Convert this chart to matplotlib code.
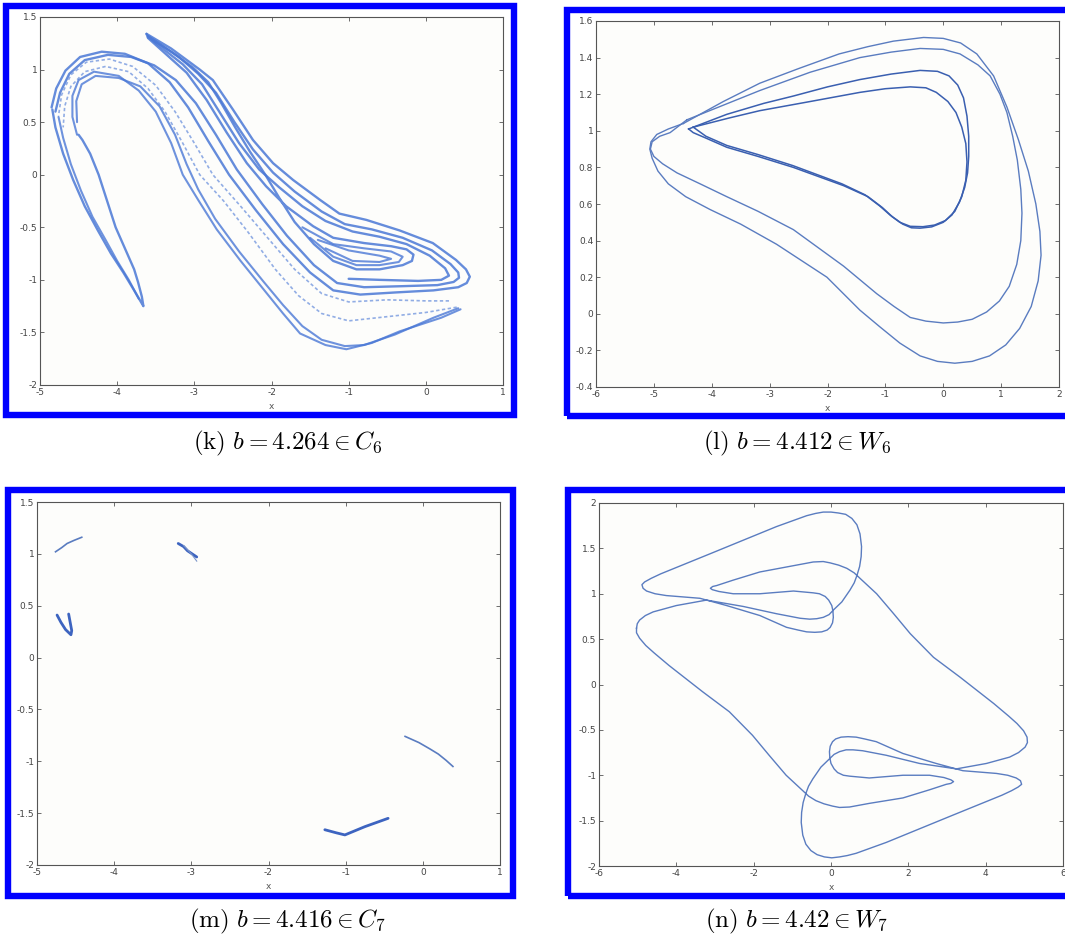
import numpy as np
import matplotlib
matplotlib.use("Agg")
import matplotlib.pyplot as plt
from matplotlib.patches import Rectangle
from matplotlib.ticker import FuncFormatter

plt.rcParams['mathtext.fontset'] = 'cm'
plt.rcParams['axes.unicode_minus'] = False

W, H = 1065, 939

# ---------------- panel (k): folded chaotic band ----------------
k_band_right = [(-3.62, 1.34), (-3.3, 1.2), (-2.93, 1.0), (-2.76, 0.9), (-2.5, 0.62), (-2.24, 0.33),
                (-1.98, 0.11), (-1.72, -0.05), (-1.37, -0.24), (-1.12, -0.37), (-0.77, -0.43),
                (-0.34, -0.53), (0.09, -0.65), (0.39, -0.81), (0.52, -0.9), (0.57, -0.97),
                (0.53, -1.03), (0.42, -1.07), (0.1, -1.1), (-0.4, -1.12), (-0.85, -1.14),
                (-1.2, -1.1), (-1.5, -0.93), (-1.85, -0.66), (-2.2, -0.34), (-2.55, 0.0),
                (-2.82, 0.32), (-3.08, 0.64), (-3.32, 0.88), (-3.6, 1.06), (-3.9, 1.15),
                (-4.2, 1.17), (-4.48, 1.12), (-4.67, 0.99), (-4.79, 0.82), (-4.85, 0.64)]
k_band_mid = [(-3.6, 1.32), (-3.2, 1.12), (-2.95, 0.96), (-2.72, 0.78), (-2.48, 0.5), (-2.24, 0.24),
              (-1.98, 0.02), (-1.7, -0.16), (-1.35, -0.35), (-1.05, -0.47), (-0.7, -0.52),
              (-0.3, -0.6), (0.08, -0.72), (0.32, -0.85), (0.42, -0.93), (0.43, -0.98),
              (0.36, -1.02), (0.15, -1.05), (-0.3, -1.06), (-0.8, -1.07), (-1.15, -1.03),
              (-1.45, -0.86), (-1.8, -0.58), (-2.12, -0.28), (-2.45, 0.05), (-2.72, 0.38),
              (-2.98, 0.68), (-3.24, 0.9), (-3.52, 1.04), (-3.82, 1.12), (-4.12, 1.14),
              (-4.42, 1.09), (-4.62, 0.96), (-4.74, 0.78), (-4.8, 0.6)]
k_band_inner = [(-3.6, 1.31), (-3.15, 1.05), (-2.9, 0.86), (-2.66, 0.58), (-2.42, 0.3), (-2.16, 0.05),
                (-1.9, -0.12), (-1.6, -0.3), (-1.3, -0.44), (-0.95, -0.54), (-0.6, -0.59),
                (-0.25, -0.66), (0.05, -0.77), (0.25, -0.89), (0.3, -0.96), (0.2, -1.0),
                (-0.1, -1.01), (-0.6, -1.0), (-1.0, -0.99)]
k_band_left = [(-3.62, 1.34), (-3.6, 1.3), (-3.1, 0.97), (-2.84, 0.71), (-2.58, 0.4), (-2.32, 0.11),
               (-2.07, -0.11), (-1.81, -0.3), (-1.46, -0.49), (-1.2, -0.6), (-0.8, -0.65),
               (-0.45, -0.68), (-0.25, -0.71), (-0.16, -0.76), (-0.18, -0.82), (-0.3, -0.86),
               (-0.6, -0.9), (-0.9, -0.9), (-1.2, -0.82), (-1.45, -0.66), (-1.7, -0.45),
               (-1.9, -0.22), (-2.08, 0.0), (-2.28, 0.22), (-2.47, 0.45), (-2.65, 0.68),
               (-2.82, 0.88), (-3.02, 1.02), (-3.3, 1.17), (-3.6, 1.31)]
k_hook = [(-1.6, -0.5), (-1.2, -0.66), (-0.8, -0.7), (-0.45, -0.73), (-0.3, -0.78), (-0.35, -0.83),
          (-0.6, -0.86), (-0.9, -0.86), (-1.2, -0.78), (-1.5, -0.6)]
k_hook2 = [(-1.4, -0.62), (-1.0, -0.72), (-0.6, -0.77), (-0.45, -0.8), (-0.6, -0.83), (-0.95, -0.82),
           (-1.3, -0.7)]
k_bottom = [(0.45, -1.28), (0.2, -1.36), (-0.34, -1.49), (-0.7, -1.6), (-1.03, -1.66), (-1.3, -1.62),
            (-1.63, -1.51), (-1.85, -1.32), (-2.07, -1.12), (-2.4, -0.82), (-2.71, -0.52),
            (-2.95, -0.24), (-3.15, 0.0), (-3.3, 0.3), (-3.5, 0.6), (-3.72, 0.8), (-3.98, 0.94),
            (-4.3, 0.98), (-4.5, 0.9), (-4.58, 0.75), (-4.58, 0.55), (-4.52, 0.38)]
k_bottom2 = [(0.42, -1.27), (0.1, -1.36), (-0.4, -1.52), (-0.8, -1.62), (-1.05, -1.63), (-1.35, -1.57),
             (-1.6, -1.44), (-1.85, -1.24), (-2.1, -1.02), (-2.42, -0.73), (-2.73, -0.42),
             (-2.95, -0.14), (-3.1, 0.1), (-3.25, 0.38), (-3.45, 0.65), (-3.7, 0.84), (-3.98, 0.92),
             (-4.28, 0.94), (-4.46, 0.86), (-4.53, 0.7), (-4.52, 0.5)]
k_lower_a = [(0.4, -1.26), (0.0, -1.31), (-0.5, -1.35), (-1.0, -1.39), (-1.35, -1.32), (-1.65, -1.15),
             (-1.95, -0.9), (-2.3, -0.55), (-2.62, -0.25), (-2.93, 0.0), (-3.15, 0.3),
             (-3.38, 0.6), (-3.6, 0.82), (-3.85, 0.98), (-4.15, 1.03), (-4.42, 0.98),
             (-4.6, 0.84), (-4.68, 0.65), (-4.7, 0.45)]
k_lower_b = [(0.3, -1.2), (0.0, -1.2), (-0.5, -1.19), (-1.0, -1.21), (-1.35, -1.13), (-1.7, -0.9),
             (-2.05, -0.6), (-2.4, -0.3), (-2.76, 0.0), (-3.0, 0.3), (-3.25, 0.6), (-3.5, 0.85),
             (-3.8, 1.03), (-4.1, 1.1), (-4.4, 1.07), (-4.6, 0.95), (-4.72, 0.76), (-4.76, 0.56)]
k_arm = [(-4.84, 0.62), (-4.8, 0.45), (-4.7, 0.2), (-4.57, -0.05), (-4.42, -0.3), (-4.25, -0.53),
         (-4.08, -0.75), (-3.92, -0.93), (-3.78, -1.1), (-3.7, -1.2), (-3.66, -1.25), (-3.68, -1.16),
         (-3.73, -1.02), (-3.78, -0.9), (-3.9, -0.7), (-4.02, -0.5), (-4.13, -0.25), (-4.24, 0.0),
         (-4.35, 0.2), (-4.45, 0.33), (-4.5, 0.38)]
k_arm2 = [(-4.76, 0.55), (-4.7, 0.35), (-4.6, 0.1), (-4.47, -0.15), (-4.32, -0.4), (-4.15, -0.62),
          (-4.0, -0.82), (-3.85, -1.0), (-3.72, -1.18)]

# ---------------- panel (l): period-4 cycle ----------------
l_loop1 = [(-4.49, 1.04), (-3.8, 1.16), (-3.17, 1.26), (-2.5, 1.34), (-1.8, 1.42), (-1.3, 1.46),
           (-0.86, 1.49), (-0.34, 1.51), (0.0, 1.505), (0.3, 1.48), (0.58, 1.42), (0.87, 1.3),
           (1.1, 1.13), (1.3, 0.95), (1.47, 0.78), (1.6, 0.6), (1.67, 0.45), (1.69, 0.32),
           (1.64, 0.18), (1.52, 0.04), (1.32, -0.08), (1.08, -0.17), (0.8, -0.23), (0.5, -0.26),
           (0.2, -0.27), (-0.1, -0.26), (-0.4, -0.23), (-0.75, -0.16), (-1.1, -0.07), (-1.44, 0.02),
           (-2.01, 0.2), (-2.88, 0.38), (-3.5, 0.49), (-4.03, 0.57), (-4.45, 0.64), (-4.75, 0.71),
           (-4.93, 0.78), (-5.03, 0.85), (-5.07, 0.9), (-5.05, 0.94), (-4.95, 0.98), (-4.75, 1.01),
           (-4.49, 1.04)]
l_loop2 = [(-4.43, 1.06), (-3.8, 1.14), (-3.17, 1.22), (-2.3, 1.32), (-1.44, 1.4), (-0.9, 1.43),
           (-0.4, 1.45), (0.0, 1.445), (0.29, 1.42), (0.6, 1.36), (0.81, 1.3), (0.98, 1.2),
           (1.1, 1.1), (1.2, 0.97), (1.28, 0.84), (1.34, 0.68), (1.36, 0.55), (1.34, 0.4),
           (1.27, 0.27), (1.14, 0.15), (0.97, 0.07), (0.75, 0.01), (0.5, -0.03), (0.25, -0.045),
           (0.0, -0.05), (-0.3, -0.04), (-0.57, -0.02), (-0.85, 0.04), (-1.15, 0.11), (-1.72, 0.26),
           (-2.59, 0.46), (-3.2, 0.56), (-3.74, 0.64), (-4.2, 0.71), (-4.6, 0.77), (-4.85, 0.82),
           (-5.0, 0.86), (-5.06, 0.9), (-5.03, 0.94), (-4.9, 0.97), (-4.72, 0.99), (-4.43, 1.06)]
l_loop3 = [(-4.4, 1.01), (-3.74, 1.09), (-3.1, 1.15), (-2.59, 1.19), (-2.0, 1.24), (-1.44, 1.28),
           (-0.9, 1.31), (-0.4, 1.33), (-0.1, 1.325), (0.1, 1.3), (0.25, 1.25), (0.35, 1.18),
           (0.41, 1.08), (0.44, 0.97), (0.44, 0.86), (0.42, 0.77), (0.37, 0.69), (0.28, 0.61),
           (0.15, 0.54), (0.0, 0.5), (-0.2, 0.475), (-0.4, 0.468), (-0.55, 0.47), (-0.7, 0.49),
           (-0.88, 0.53), (-1.05, 0.58), (-1.3, 0.64), (-1.72, 0.7), (-2.59, 0.8), (-3.2, 0.86),
           (-3.74, 0.91), (-4.1, 0.96), (-4.32, 0.99), (-4.4, 1.01)]
l_loop4 = [(-4.32, 1.02), (-3.7, 1.07), (-3.17, 1.11), (-2.3, 1.16), (-1.44, 1.21), (-1.0, 1.23),
           (-0.57, 1.24), (-0.3, 1.235), (-0.12, 1.21), (0.08, 1.16), (0.22, 1.1), (0.32, 1.02),
           (0.39, 0.93), (0.41, 0.83), (0.39, 0.73), (0.32, 0.64), (0.2, 0.56), (0.04, 0.51),
           (-0.15, 0.485), (-0.35, 0.476), (-0.57, 0.478), (-0.75, 0.5), (-0.92, 0.54),
           (-1.1, 0.59), (-1.35, 0.65), (-1.75, 0.71), (-2.6, 0.81), (-3.2, 0.87), (-3.74, 0.92),
           (-4.1, 0.97), (-4.32, 1.02)]

# ---------------- panel (m): seven chaotic pieces ----------------
m_piece1 = [(-4.76, 1.02), (-4.68, 1.06), (-4.61, 1.1), (-4.52, 1.13), (-4.42, 1.16)]
m_piece2 = [(-3.17, 1.1), (-3.1, 1.07), (-3.05, 1.03), (-2.93, 0.97)]
m_piece2b = [(-3.1, 1.08), (-3.0, 1.0), (-2.93, 0.93)]
m_piece3 = [(-4.74, 0.41), (-4.69, 0.34), (-4.63, 0.27), (-4.56, 0.22), (-4.55, 0.26),
            (-4.57, 0.34), (-4.59, 0.42)]
m_piece4 = [(-0.23, -0.76), (-0.05, -0.82), (0.09, -0.88), (0.2, -0.93), (0.3, -0.99),
            (0.39, -1.05)]
m_piece5 = [(-1.27, -1.66), (-1.12, -1.69), (-1.01, -1.71), (-0.88, -1.67), (-0.75, -1.63),
            (-0.6, -1.59), (-0.45, -1.55)]

# ---------------- panel (n): symmetric closed orbit ----------------
n_orbit = [(-5.03, 0.62), (-5.01, 0.67), (-4.95, 0.71), (-4.8, 0.76), (-4.6, 0.8), (-4.0, 0.87),
           (-3.22, 0.93), (-2.27, 0.86), (-1.41, 0.78), (-0.8, 0.73), (-0.55, 0.72), (-0.37, 0.725),
           (-0.2, 0.74), (-0.05, 0.77), (0.06, 0.82), (0.28, 0.91), (0.49, 1.04), (0.6, 1.12),
           (0.67, 1.2), (0.74, 1.3), (0.78, 1.41), (0.79, 1.52), (0.75, 1.66), (0.67, 1.76),
           (0.54, 1.83), (0.38, 1.875), (0.19, 1.89), (0.0, 1.9), (-0.2, 1.9), (-0.4, 1.885),
           (-0.63, 1.86), (-1.41, 1.74), (-2.27, 1.59), (-3.13, 1.44), (-4.0, 1.29), (-4.4, 1.22),
           (-4.65, 1.17), (-4.82, 1.13), (-4.89, 1.1), (-4.86, 1.06), (-4.77, 1.03), (-4.55, 1.0),
           (-4.26, 0.98), (-3.39, 0.95), (-2.7, 0.87), (-1.84, 0.76), (-1.15, 0.63), (-0.85, 0.6),
           (-0.63, 0.58), (-0.42, 0.575), (-0.24, 0.58), (-0.1, 0.6), (-0.02, 0.63), (0.04, 0.68),
           (0.06, 0.74), (0.05, 0.81), (0.02, 0.87), (-0.06, 0.93), (-0.15, 0.97), (-0.3, 1.0),
           (-0.46, 1.01), (-0.97, 1.03), (-1.84, 1.0), (-2.53, 1.0), (-2.9, 1.025), (-3.07, 1.045),
           (-3.12, 1.06), (-3.06, 1.08), (-2.96, 1.09), (-2.53, 1.15), (-1.84, 1.24), (-0.97, 1.31),
           (-0.46, 1.35), (-0.2, 1.355), (-0.02, 1.34), (0.2, 1.315), (0.41, 1.28), (0.6, 1.23),
           (0.75, 1.17), (1.18, 1.0), (1.62, 0.78), (2.05, 0.56), (2.65, 0.3), (3.34, 0.08),
           (4.21, -0.21), (4.6, -0.35), (4.81, -0.43), (4.98, -0.51), (5.07, -0.58), (5.08, -0.64),
           (5.02, -0.69), (4.85, -0.75), (4.62, -0.8), (4.02, -0.87), (3.24, -0.93), (2.29, -0.87),
           (1.43, -0.78), (0.82, -0.73), (0.57, -0.72), (0.39, -0.72), (0.22, -0.74),
           (0.08, -0.77), (-0.04, -0.82), (-0.26, -0.91), (-0.47, -1.04), (-0.58, -1.12),
           (-0.65, -1.2), (-0.72, -1.3), (-0.76, -1.41), (-0.77, -1.52), (-0.73, -1.66),
           (-0.65, -1.76), (-0.52, -1.83), (-0.36, -1.875), (-0.17, -1.9), (0.02, -1.91),
           (0.22, -1.9), (0.42, -1.885), (0.65, -1.86), (1.43, -1.74), (2.29, -1.59), (3.15, -1.44),
           (4.02, -1.29), (4.42, -1.22), (4.67, -1.17), (4.84, -1.13), (4.93, -1.1), (4.9, -1.06),
           (4.79, -1.03), (4.57, -1.0), (4.28, -0.98), (3.41, -0.95), (2.72, -0.87), (1.86, -0.76),
           (1.17, -0.63), (0.87, -0.6), (0.65, -0.58), (0.44, -0.575), (0.26, -0.58), (0.12, -0.6),
           (0.04, -0.63), (-0.02, -0.68), (-0.04, -0.74), (-0.03, -0.81), (0.0, -0.87),
           (0.08, -0.93), (0.17, -0.97), (0.32, -1.0), (0.48, -1.01), (0.99, -1.03), (1.86, -1.0),
           (2.55, -1.0), (2.92, -1.025), (3.1, -1.05), (3.17, -1.07), (3.1, -1.09), (2.98, -1.1),
           (2.55, -1.16), (1.86, -1.25), (0.99, -1.31), (0.48, -1.35), (0.22, -1.355),
           (0.04, -1.34), (-0.18, -1.315), (-0.39, -1.28), (-0.58, -1.23), (-0.73, -1.17),
           (-1.16, -1.0), (-1.6, -0.78), (-2.03, -0.56), (-2.63, -0.3), (-3.32, -0.08),
           (-4.19, 0.21), (-4.58, 0.35), (-4.79, 0.43), (-4.95, 0.51), (-5.03, 0.57), (-5.03, 0.62)]

# panel frames and axes, in pixels (left, top, right, bottom) of the original picture
frames = {'k': (6, 6.5, 513.5, 415.5), 'l': (567, 9.5, 1070, 416),
          'm': (7.5, 490, 512.5, 895.5), 'n': (567.5, 490, 1070, 896)}
axes_px = {'k': (40, 17, 503, 385), 'l': (596, 21, 1059, 387),
           'm': (37, 502, 500, 865), 'n': (599, 503, 1063, 866)}
limits = {'k': ((-5, 1), (-2, 1.5)), 'l': ((-6, 2), (-0.4, 1.6)),
          'm': ((-5, 1), (-2, 1.5)), 'n': ((-6, 6), (-2, 2))}
ticks = {'k': (np.arange(-5, 1.01, 1), np.arange(-2, 1.51, 0.5)),
         'l': (np.arange(-6, 2.01, 1), np.arange(-0.4, 1.61, 0.2)),
         'm': (np.arange(-5, 1.01, 1), np.arange(-2, 1.51, 0.5)),
         'n': (np.arange(-6, 6.01, 2), np.arange(-2, 2.01, 0.5))}
captions = {'k': (288, 443, r'$\mathrm{(k)}\ b = 4.264 \in C_6$'),
            'l': (797, 443, r'$\mathrm{(l)}\ b = 4.412 \in W_6$'),
            'm': (288, 921, r'$\mathrm{(m)}\ b = 4.416 \in C_7$'),
            'n': (797, 921, r'$\mathrm{(n)}\ b = 4.42 \in W_7$')}

fig = plt.figure(figsize=(W / 100, H / 100), dpi=100)

for key, (x0, y0, x1, y1) in frames.items():
    fig.patches.append(Rectangle((x0 / W, 1 - y1 / H), (x1 - x0) / W, (y1 - y0) / H,
                                 transform=fig.transFigure, fill=False,
                                 edgecolor='#0000ff', linewidth=4.6, zorder=0))

fmt = FuncFormatter(lambda v, p: '%g' % round(v, 2))
axs = {}
for key, (l, t, r, b) in axes_px.items():
    ax = fig.add_axes([l / W, 1 - b / H, (r - l) / W, (b - t) / H])
    ax.set_facecolor('#fdfdfb')
    (xl, yl) = limits[key]
    ax.set_xlim(*xl)
    ax.set_ylim(*yl)
    ax.set_xticks(ticks[key][0])
    ax.set_yticks(ticks[key][1])
    ax.xaxis.set_major_formatter(fmt)
    ax.yaxis.set_major_formatter(fmt)
    ax.tick_params(direction='in', length=3, width=0.6, top=True, right=True,
                   labelsize=6.5, labelcolor='#444444', colors='#555555', pad=2)
    for s in ax.spines.values():
        s.set_linewidth(0.8)
        s.set_color('#555555')
    ax.set_xlabel('x', fontsize=6.5, color='#555555', labelpad=4)
    axs[key] = ax


def draw(ax, pts, **kw):
    xs = [p[0] for p in pts]
    ys = [p[1] for p in pts]
    ax.plot(xs, ys, solid_joinstyle='round', **kw)


kc = '#4a78d6'
ax = axs['k']
for pts in (k_band_right, k_band_mid, k_band_inner, k_band_left, k_arm):
    draw(ax, pts, color=kc, lw=1.7, alpha=0.85, solid_capstyle='round')
for pts in (k_hook, k_hook2, k_bottom, k_bottom2, k_arm2):
    draw(ax, pts, color=kc, lw=1.5, alpha=0.8, solid_capstyle='round')
for pts in (k_lower_a, k_lower_b):
    draw(ax, pts, color=kc, lw=1.2, alpha=0.6, ls=(0, (2, 1.5)))

ax = axs['l']
for pts in (l_loop1, l_loop2):
    draw(ax, pts, color='#5a7cc0', lw=1.0)
for pts in (l_loop3, l_loop4):
    draw(ax, pts, color='#3a5fb0', lw=1.1)

ax = axs['m']
for pts in (m_piece1, m_piece4):
    draw(ax, pts, color='#5a7cc0', lw=1.2)
for pts in (m_piece2, m_piece3, m_piece5):
    draw(ax, pts, color='#3d64c0', lw=2.0, solid_capstyle='round')
draw(ax, m_piece2b, color='#7a94c8', lw=0.8)

ax = axs['n']
draw(ax, n_orbit, color='#5a7cc0', lw=1.0)

for key, (cx, cy, txt) in captions.items():
    fig.text(cx / W, 1 - cy / H, txt, ha='center', va='center', fontsize=18)

fig.savefig('out.png', dpi=100)
